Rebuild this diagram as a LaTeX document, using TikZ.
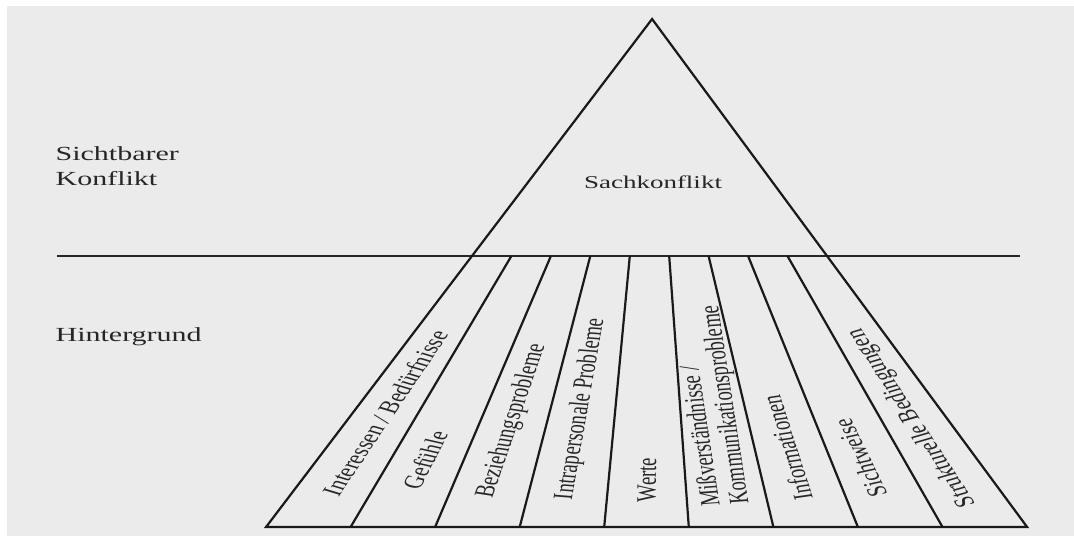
\documentclass[tikz,border=0pt]{standalone}
\usepackage{fontspec}
\setmainfont{Liberation Serif}
\usepackage{tikz}

\begin{document}
\begin{tikzpicture}[x=1pt/3,y=-0.5pt,xscale=1.5,line join=miter,
  paper/.style={fill=black!8,draw=none},
  edge line/.style={draw=black!90,line width=1.1pt},
  water line/.style={draw=black!85,line width=0.6pt},
  stripe label/.style={transform shape,inner sep=0pt,text=black!85,font=\fontsize{9.3}{10.6}\selectfont},
  side label/.style={transform shape,inner sep=0pt,text=black!85,anchor=base west,font=\fontsize{10}{12.5}\selectfont}]

  \useasboundingbox (0,0) rectangle (1074,536);
  \fill[white] (0,0) rectangle (1074,536);
  \path[paper] (7,6) rectangle (1074,536);

  \coordinate (apex) at (652,19);
  \coordinate (left foot) at (266,527);
  \coordinate (right foot) at (1027,527);

  \draw[water line] (57,256) -- (1020,256);
  \draw[edge line] (apex) -- (left foot) -- (right foot) -- cycle;

  \draw[edge line] (511.4,256) -- (350.6,527);
  \draw[edge line] (550.9,256) -- (435.1,527);
  \draw[edge line] (590.3,256) -- (519.7,527);
  \draw[edge line] (629.8,256) -- (604.2,527);
  \draw[edge line] (669.2,256) -- (688.8,527);
  \draw[edge line] (708.6,256) -- (773.4,527);
  \draw[edge line] (748.1,256) -- (857.9,527);
  \draw[edge line] (787.5,256) -- (942.5,527);

  \node[side label] (sichtbar) at (55,160) {Sichtbarer};
  \node[side label] (konflikt) at (55,185) {Konflikt};
  \node[side label] (hintergrund) at (55,341) {Hintergrund};
  \node[side label,anchor=base,font=\fontsize{9}{11}\selectfont] (sach) at (653,188) {Sachkonflikt};

  \node[stripe label,rotate=65.7] (interessen) at (385,413) {Interessen / Bedürfnisse};
  \node[stripe label,rotate=71.2] (gefuehle) at (425,460) {Gefühle};
  \node[stripe label,rotate=77.1] (beziehung) at (512,421) {Beziehungsprobleme};
  \node[stripe label,rotate=83.3] (intra) at (581,409) {Intrapersonale Probleme};
  \node[stripe label,rotate=89.6] (werte) at (647,480) {Werte};
  \node[stripe label,rotate=95.9,align=left,font=\fontsize{9.3}{9.6}\selectfont] (kommunikation) at (712,406) {Mißverständnisse /\\Kommunikationsprobleme};
  \node[stripe label,rotate=102.1] (informationen) at (787,448) {Informationen};
  \node[stripe label,rotate=108.0] (sichtweise) at (860,458) {Sichtweise};
  \node[stripe label,rotate=113.6] (strukturell) at (912,418) {Strukturelle Bedingungen};
\end{tikzpicture}
\end{document}
